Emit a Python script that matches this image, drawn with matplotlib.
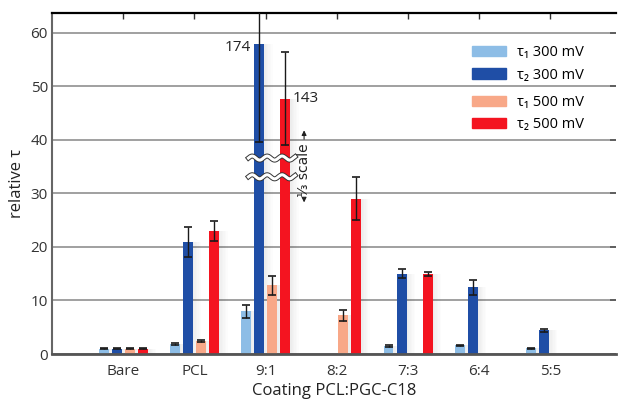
import numpy as np
import matplotlib
matplotlib.use("Agg")
import matplotlib.pyplot as plt
from matplotlib.patches import Patch
import matplotlib.patheffects as pe

plt.rcParams['font.family'] = ['Open Sans', 'DejaVu Sans']

categories = ["Bare", "PCL", "9:1", "8:2", "7:3", "6:4", "5:5"]
nan = np.nan
t1_300 = [1.0, 1.9, 8.0, nan, 1.5, 1.6, 1.1]
t1_300_err = [0.1, 0.15, 1.2, nan, 0.15, 0.15, 0.1]
t2_300 = [1.0, 21.0, 174.0, nan, 15.0, 12.5, 4.4]
t2_300_err = [0.1, 2.8, 55.0, nan, 0.8, 1.4, 0.3]
t1_500 = [1.0, 2.4, 12.8, 7.2, nan, nan, nan]
t1_500_err = [0.1, 0.2, 1.7, 1.0, nan, nan, nan]
t2_500 = [1.0, 23.0, 143.0, 29.0, 15.0, nan, nan]
t2_500_err = [0.1, 1.8, 26.0, 4.0, 0.4, nan, nan]
scaled_category = "9:1"
scale_factor = 3

series = [
    (t1_300, t1_300_err, "#8dbde6", "τ₁ 300 mV", False),
    (t2_300, t2_300_err, "#1f4ea6", "τ₂ 300 mV", True),
    (t1_500, t1_500_err, "#f8a888", "τ₁ 500 mV", False),
    (t2_500, t2_500_err, "#f41420", "τ₂ 500 mV", True),
]

fig = plt.figure(figsize=(6.2, 4.01), dpi=100)
ax = fig.add_axes([0.0839, 0.1172, 0.9096, 0.8504])

x = np.arange(len(categories))
step = 0.183
width = 0.14
offsets = (np.arange(4) - 1.5) * step
si = categories.index(scaled_category)

for k, (vals, errs, col, lab, scaled) in enumerate(series):
    v = np.array(vals, dtype=float)
    e = np.array(errs, dtype=float)
    if scaled:
        v[si] = v[si] / scale_factor
        e[si] = e[si] / scale_factor
    xs = x + offsets[k]
    # shadow
    for j in range(6):
        ax.bar(xs + width * 0.5 + j * 0.02, v, width=0.02, align='edge',
               color='#000000', alpha=0.07 * (1 - j / 6), zorder=1.5, linewidth=0)
    ax.bar(xs, v, width=width, color=col, zorder=2, linewidth=0)
    ax.errorbar(xs, v, yerr=e, fmt='none', ecolor='#1a1a1a', elinewidth=1.0,
                capsize=3, capthick=1.2, zorder=3)

# labels for the scaled bars
ax.text(si + offsets[1] - width / 2 - 0.04, t2_300[si] / scale_factor - 0.8, f"{t2_300[si]:.0f}",
        ha='right', va='center', fontsize=11, color='#222222')
ax.text(si + offsets[3] + width / 2 + 0.04, t2_500[si] / scale_factor, f"{t2_500[si]:.0f}",
        ha='left', va='center', fontsize=11, color='#222222')

# break marks
xw = np.linspace(si + offsets[1] - 0.15, si + offsets[3] + 0.14, 200)
for yb in (36.6, 33.1):
    yw = yb + 0.38 * np.sin((xw - xw[0]) / 0.21 * 2 * np.pi)
    ax.plot(xw, yw, color='white', lw=2.2, zorder=4,
            path_effects=[pe.Stroke(linewidth=3.6, foreground='#333333'), pe.Normal()])

# 1/3 scale arrow
xa = si + 0.54
ax.annotate("", xy=(xa, 42.3), xytext=(xa, 39.6),
            arrowprops=dict(arrowstyle='-|>', color='#222222', lw=0.8, mutation_scale=7), zorder=4)
ax.annotate("", xy=(xa, 27.8), xytext=(xa, 29.4),
            arrowprops=dict(arrowstyle='-|>', color='#222222', lw=0.8, mutation_scale=7), zorder=4)
ax.text(xa, 34.4, "⅓ scale", rotation=90, ha='center', va='center', fontsize=10,
        color='#222222', family=['DejaVu Sans'])

ax.set_xlim(-1, 6.92)
ax.set_ylim(0, 63.7)
ax.set_yticks(np.arange(0, 61, 10))
ax.set_xticks(x)
ax.set_xticklabels(categories, fontsize=11, color='#333333')
ax.tick_params(axis='y', labelsize=11, labelcolor='#333333', left=False, right=True,
               direction='in', length=4, color='#555555', width=1.2, pad=3)
ax.tick_params(axis='x', bottom=False, top=True, direction='in', length=4,
               color='#333333', width=1.0, pad=7)
ax.yaxis.grid(True, color='#999999', lw=1.3, zorder=0)
ax.set_axisbelow(True)
ax.spines['top'].set_color('black')
ax.spines['top'].set_linewidth(1.6)
ax.spines['left'].set_color('#666666')
ax.spines['left'].set_linewidth(1.5)
ax.spines['bottom'].set_color('#555555')
ax.spines['bottom'].set_linewidth(2)
ax.spines['right'].set_visible(False)

ax.set_xlabel("Coating PCL:PGC-C18", fontsize=12, color='#222222', labelpad=3)
ax.set_ylabel("relative τ", fontsize=12, color='#222222', labelpad=4)

h1 = [Patch(color=series[0][2], label=series[0][3]), Patch(color=series[1][2], label=series[1][3])]
h2 = [Patch(color=series[2][2], label=series[2][3]), Patch(color=series[3][2], label=series[3][3])]
kw = dict(loc='upper left', frameon=False, fontsize=10.5, handlelength=2.3, handleheight=0.7,
          labelspacing=0.5, handletextpad=0.8, borderaxespad=0, borderpad=0)
leg1 = ax.legend(handles=h1, bbox_to_anchor=(0.745, 0.905), **kw)
ax.add_artist(leg1)
ax.legend(handles=h2, bbox_to_anchor=(0.745, 0.76), **kw)

fig.savefig("out.png", dpi=100)
